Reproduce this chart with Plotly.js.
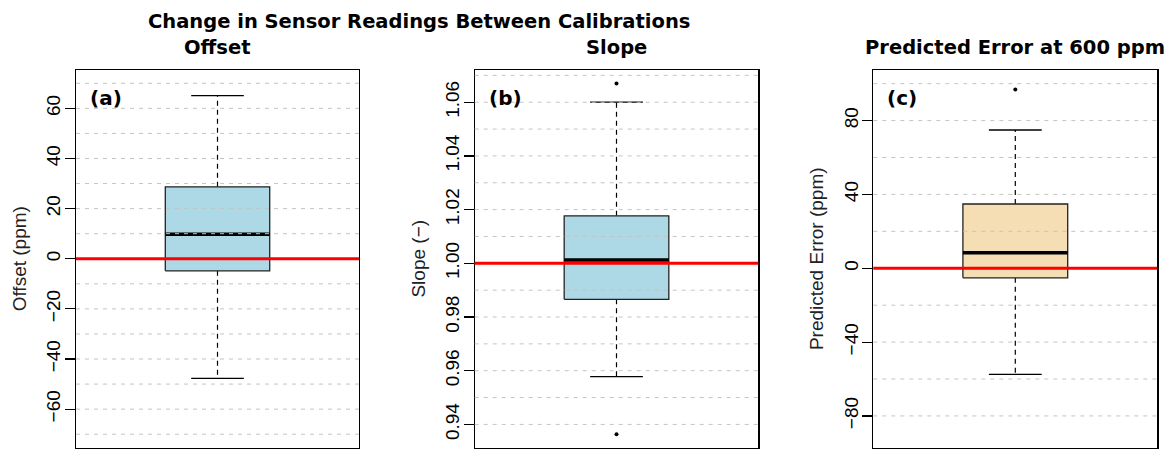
<!DOCTYPE html>
<html><head><meta charset="utf-8">
<script src="https://cdn.plot.ly/plotly-3.0.1.min.js"></script>
<style>html,body{margin:0;padding:0;background:#fff}</style>
</head><body><div id="chart" style="width:1166px;height:449px"></div>
<script>
// ---- data ----
const mainTitle = 'Change in Sensor Readings Between Calibrations';
const panelTitles = ['Offset', 'Slope', 'Predicted Error at 600 ppm'];
const panelLetters = ['(a)', '(b)', '(c)'];
const yTitles = ['Offset (ppm)', 'Slope (\u2212)', 'Predicted Error (ppm)'];
const lowerWhisker = [-47.7, 0.9578, -57.5];
const q1 = [-4.8, 0.9866, -5.2];
const median = [9.8, 1.0012, 8.4];
const q3 = [28.7, 1.0177, 34.8];
const upperWhisker = [65.1, 1.0600, 74.9];
const outliers = [[], [1.0670, 0.9363], [96.9]];
const refLine = [0, 1, 0];
const yTickVals = [[-60, -40, -20, 0, 20, 40, 60], [0.94, 0.96, 0.98, 1.00, 1.02, 1.04, 1.06], [-80, -40, 0, 40, 80]];
const yTickText = [['\u221260', '\u221240', '\u221220', '0', '20', '40', '60'], ['0.94', '0.96', '0.98', '1.00', '1.02', '1.04', '1.06'], ['\u221280', '\u221240', '0', '40', '80']];
const gridVals = [[-70, -60, -50, -40, -30, -20, -10, 0, 10, 20, 30, 40, 50, 60, 70],
                  [0.94, 0.95, 0.96, 0.97, 0.98, 0.99, 1.00, 1.01, 1.02, 1.03, 1.04, 1.05, 1.06, 1.07],
                  [-80, -60, -40, -20, 0, 20, 40, 60, 80, 100]];
const yRanges = [[-75.3, 75.3], [0.9314, 1.0720], [-97.1, 107.4]];
const boxFill = ['#ADD8E6', '#ADD8E6', '#F5DEB3'];

// ---- layout geometry (pixels of a 1166x449 canvas) ----
const W = 1166, H = 449;
const plotLeft = [76, 474.7, 873.3], plotRight = [359, 758.3, 1157.3];
const plotTop = 70, plotBottom = 447.5;
const boxHalf = 0.369, capHalf = 0.186;

const traces = [], shapes = [], annotations = [];
const layout = {
  width: W, height: H, margin: {l: 0, r: 0, t: 0, b: 0},
  paper_bgcolor: '#fff', plot_bgcolor: '#fff', showlegend: false,
  font: {family: 'Liberation Sans, Arial, sans-serif', color: '#000'}
};

for (let i = 0; i < 3; i++) {
  const xa = i === 0 ? 'x' : 'x' + (i + 1), ya = i === 0 ? 'y' : 'y' + (i + 1);
  const xKey = i === 0 ? 'xaxis' : 'xaxis' + (i + 1), yKey = i === 0 ? 'yaxis' : 'yaxis' + (i + 1);
  const common = {xaxis: xa, yaxis: ya, hoverinfo: 'skip', showlegend: false};
  // whiskers (dashed)
  traces.push(Object.assign({type: 'scatter', mode: 'lines',
    x: [0, 0, null, 0, 0], y: [q3[i], upperWhisker[i], null, q1[i], lowerWhisker[i]],
    line: {color: '#000', width: 1.2, dash: '5px,4px'}}, common));
  // caps
  traces.push(Object.assign({type: 'scatter', mode: 'lines',
    x: [-capHalf, capHalf, null, -capHalf, capHalf],
    y: [upperWhisker[i], upperWhisker[i], null, lowerWhisker[i], lowerWhisker[i]],
    line: {color: '#000', width: 1.3}}, common));
  // box
  traces.push(Object.assign({type: 'scatter', mode: 'lines', fill: 'toself', fillcolor: boxFill[i],
    x: [-boxHalf, boxHalf, boxHalf, -boxHalf, -boxHalf], y: [q1[i], q1[i], q3[i], q3[i], q1[i]],
    line: {color: '#222', width: 1.3}}, common));
  // median
  traces.push(Object.assign({type: 'scatter', mode: 'lines',
    x: [-boxHalf, boxHalf], y: [median[i], median[i]],
    line: {color: '#000', width: 3.5}}, common));
  // outliers
  if (outliers[i].length) {
    traces.push(Object.assign({type: 'scatter', mode: 'markers',
      x: outliers[i].map(() => 0), y: outliers[i],
      marker: {color: '#000', size: 4}}, common));
  }
  layout[xKey] = {domain: [plotLeft[i] / W, plotRight[i] / W], range: [-1, 1], anchor: ya,
    showgrid: false, zeroline: false, showticklabels: false, ticks: '',
    showline: true, mirror: true, linecolor: '#000', linewidth: 1.2, fixedrange: true};
  layout[yKey] = {domain: [1 - plotBottom / H, 1 - plotTop / H], range: yRanges[i], anchor: xa,
    showgrid: false, zeroline: false, tickmode: 'array', tickvals: yTickVals[i], ticktext: yTickText[i],
    ticks: 'outside', ticklen: 10, tickwidth: 1.2, tickcolor: '#000', tickangle: -90, ticklabelstandoff: -3,
    tickfont: {size: 19, color: '#000', family: 'Liberation Sans, Arial, sans-serif'},
    showline: true, mirror: true, linecolor: '#000', linewidth: 1.2, fixedrange: true,
    title: {text: yTitles[i], standoff: 11, font: {size: 19, color: '#222', family: 'Liberation Sans, Arial, sans-serif'}}};
  // grid lines above boxes (as in the original)
  gridVals[i].forEach(g => shapes.push({type: 'line', layer: 'above', xref: xa + ' domain', yref: ya,
    x0: 0, x1: 1, y0: g, y1: g, line: {color: '#C4C4C4', width: 1, dash: '4px,5px'}}));
  // reference line
  shapes.push({type: 'line', layer: 'above', xref: xa + ' domain', yref: ya,
    x0: 0, x1: 1, y0: refLine[i], y1: refLine[i], line: {color: '#FF0000', width: 3}});
  // subplot title
  annotations.push({text: '<b>' + panelTitles[i] + '</b>', xref: 'paper', yref: 'paper',
    x: (plotLeft[i] + plotRight[i]) / 2 / W, y: 1 - 48 / H, xanchor: 'center', yanchor: 'middle',
    showarrow: false, font: {family: 'DejaVu Sans, sans-serif', size: 19.5, color: '#000'}});
  // panel letter
  annotations.push({text: '<b>' + panelLetters[i] + '</b>', xref: xa + ' domain', yref: 'paper',
    x: 0.042, y: 1 - 98 / H, xanchor: 'left', yanchor: 'middle',
    showarrow: false, font: {family: 'DejaVu Sans, sans-serif', size: 20, color: '#000'}});
}
annotations.push({text: '<b>' + mainTitle + '</b>', xref: 'paper', yref: 'paper',
  x: 419 / W, y: 1 - 21 / H, xanchor: 'center', yanchor: 'middle', showarrow: false,
  font: {family: 'DejaVu Sans, sans-serif', size: 19.5, color: '#000'}});
layout.shapes = shapes;
layout.annotations = annotations;

Plotly.newPlot('chart', traces, layout, {displayModeBar: false, staticPlot: true});
</script></body></html>
